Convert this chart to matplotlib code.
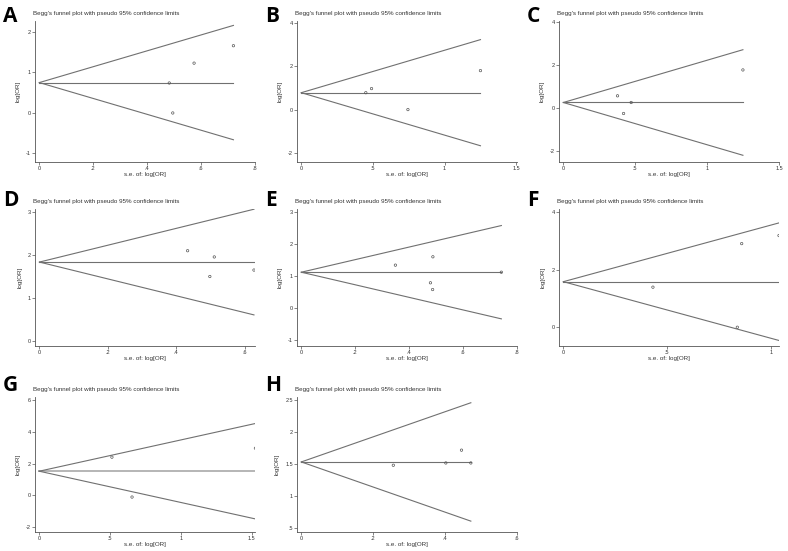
import numpy as np
import matplotlib
matplotlib.use('Agg')
from matplotlib import pyplot as plt

plt.rcParams['font.family'] = ['Liberation Sans', 'DejaVu Sans']

# panel data: s.e. of log[OR] and log[OR] per study, pooled estimate
panels = ['A', 'B', 'C', 'D', 'E', 'F', 'G', 'H']

se_A = [0.482, 0.495, 0.574, 0.72]
lor_A = [0.74, 0.0, 1.23, 1.66]
se_B = [0.45, 0.49, 0.744, 1.25]
lor_B = [0.78, 0.97, 0.0, 1.80]
se_C = [0.377, 0.419, 0.472, 1.249]
lor_C = [0.58, -0.24, 0.27, 1.78]
se_D = [0.433, 0.511, 0.498, 0.627]
lor_D = [2.09, 1.945, 1.49, 1.64]
se_E = [0.349, 0.488, 0.479, 0.487, 0.742]
lor_E = [1.34, 1.60, 0.79, 0.58, 1.12]
se_F = [0.432, 0.86, 1.04, 0.839]
lor_F = [1.39, 2.90, 3.18, 0.0]
se_G = [0.513, 0.655, 1.526]
lor_G = [2.40, -0.10, 2.96]
se_H = [0.256, 0.402, 0.4456, 0.4716]
lor_H = [1.474, 1.51, 1.71, 1.51]

pooled = [0.75, 0.78, 0.27, 1.826, 1.12, 1.58, 1.52, 1.526]
se_all = [se_A, se_B, se_C, se_D, se_E, se_F, se_G, se_H]
lor_all = [lor_A, lor_B, lor_C, lor_D, lor_E, lor_F, lor_G, lor_H]

xticks = [[0, .2, .4, .6, .8], [0, .5, 1, 1.5], [0, .5, 1, 1.5], [0, .2, .4, .6],
          [0, .2, .4, .6, .8], [0, .5, 1], [0, .5, 1, 1.5], [0, .2, .4, .6]]
xtlabels = [['0', '.2', '.4', '.6', '.8'], ['0', '.5', '1', '1.5'], ['0', '.5', '1', '1.5'],
            ['0', '.2', '.4', '.6'], ['0', '.2', '.4', '.6', '.8'], ['0', '.5', '1'],
            ['0', '.5', '1', '1.5'], ['0', '.2', '.4', '.6']]
yticks = [[-1, 0, 1, 2], [-2, 0, 2, 4], [-2, 0, 2, 4], [0, 1, 2, 3],
          [-1, 0, 1, 2, 3], [0, 2, 4], [-2, 0, 2, 4, 6], [.5, 1, 1.5, 2, 2.5]]
ytlabels = [['-1', '0', '1', '2'], ['-2', '0', '2', '4'], ['-2', '0', '2', '4'],
            ['0', '1', '2', '3'], ['-1', '0', '1', '2', '3'], ['0', '2', '4'],
            ['-2', '0', '2', '4', '6'], ['.5', '1', '1.5', '2', '2.5']]
xlims = [(-0.016, 0.8), (-0.03, 1.505), (-0.03, 1.5), (-0.013, 0.63),
         (-0.016, 0.8), (-0.021, 1.04), (-0.03, 1.523), (-0.012, 0.6)]
ylims = [(-1.21, 2.27), (-2.42, 4.09), (-2.49, 4.05), (-0.126, 3.06),
         (-1.18, 3.09), (-0.65, 4.10), (-2.29, 6.17), (0.432, 2.54)]

W, H = 788, 551
fig = plt.figure(figsize=(W / 100, H / 100), dpi=100)

col_x0 = [0, 262, 524]
rows = [(0, 21, 162), (183, 209, 346), (366, 397, 532)]
label_dy = [22, 23, 25]

line_c = '#707070'
txt_c = '#333333'

for i, p in enumerate(panels):
    r, c = divmod(i, 3)
    x0 = col_x0[c]
    ry0, top, bot = rows[r]
    left, right = x0 + 35, x0 + 255
    ax = fig.add_axes([left / W, 1 - bot / H, (right - left) / W, (bot - top) / H])

    se = np.array(se_all[i])
    lor = np.array(lor_all[i])
    s = np.array([0, se.max()])
    mid_c = '#b5b5b5' if p == 'G' else line_c
    mid_w = 1.4 if p == 'G' else 0.8
    ax.plot(s, [pooled[i], pooled[i]], color=mid_c, lw=mid_w)
    ax.plot(s, pooled[i] + 1.96 * s, color=line_c, lw=0.8)
    ax.plot(s, pooled[i] - 1.96 * s, color=line_c, lw=0.8)
    ax.scatter(se, lor, s=3, facecolors='none', edgecolors='#555555', linewidths=0.5, zorder=3)

    ax.set_xlim(*xlims[i])
    ax.set_ylim(*ylims[i])
    ax.set_xticks(xticks[i])
    ax.set_xticklabels(xtlabels[i])
    ax.set_yticks(yticks[i])
    ax.set_yticklabels(ytlabels[i])
    for sp in ['top', 'right']:
        ax.spines[sp].set_visible(False)
    for sp in ['left', 'bottom']:
        ax.spines[sp].set_color('#555555')
        ax.spines[sp].set_linewidth(0.6)
    ax.tick_params(length=2, width=0.5, color='#555555', labelsize=4, labelcolor=txt_c, pad=1)
    ax.set_xlabel('s.e. of: log[OR]', fontsize=4.5, color=txt_c, labelpad=0.5)
    ax.set_ylabel('log[OR]', fontsize=4.5, color=txt_c, labelpad=4)

    fig.text((x0 + 33) / W, 1 - (top - 7) / H, "Begg's funnel plot with pseudo 95% confidence limits",
             fontsize=4.5, color=txt_c, va='center', ha='left')
    fig.text((x0 + 3) / W, 1 - (ry0 + label_dy[r]) / H, p, fontsize=15, fontweight='bold',
             family='Open Sans', va='baseline', ha='left')

fig.savefig('out.png', dpi=100)
plt.close()
